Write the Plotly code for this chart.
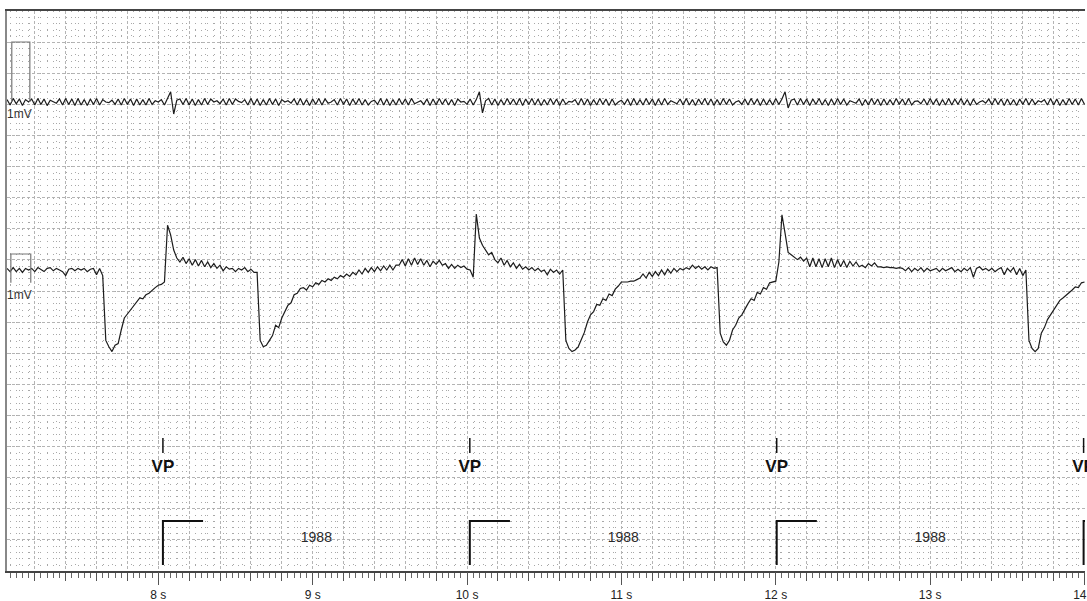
import numpy as np
import plotly.graph_objects as go

# ---------------- data ----------------
SAMPLE_T0 = 7.02          # s, first sample
SAMPLE_RATE = 50          # Hz
# Upper surface ECG lead (mV)
ecg_top_mv = [
    0.04,-0.05,0.06,-0.03,0.05,-0.06,0.04,0.0,0.05,-0.05,
    0.06,-0.04,0.05,-0.06,0.03,0.01,-0.02,0.05,-0.05,0.06,
    -0.04,0.05,-0.06,0.06,-0.05,0.04,-0.06,0.05,-0.04,0.06,
    -0.05,0.04,0.0,-0.01,0.03,-0.04,0.05,-0.05,0.06,-0.04,
    0.05,-0.06,0.05,-0.05,0.04,-0.05,0.06,-0.04,0.02,0.0,
    0.04,-0.05,0.05,0.17,-0.2,0.03,0.05,-0.04,0.06,-0.05,
    0.05,-0.06,0.04,-0.05,0.06,-0.04,0.05,0.0,0.02,-0.03,
    0.05,-0.05,0.06,-0.04,0.05,0.01,-0.01,0.04,-0.05,0.06,
    -0.05,0.05,-0.06,0.04,-0.05,0.06,-0.04,0.05,-0.06,0.04,
    0.0,0.02,-0.02,0.05,-0.05,0.06,-0.05,0.04,-0.06,0.05,
    -0.04,0.06,-0.05,0.05,-0.02,0.0,0.04,-0.05,0.06,-0.04,
    0.05,-0.06,0.05,-0.04,0.06,-0.05,0.04,-0.05,0.01,0.03,
    -0.04,0.06,-0.05,0.05,-0.06,0.04,-0.05,0.06,-0.04,0.05,
    -0.05,0.06,-0.03,0.0,0.02,-0.04,0.05,-0.06,0.05,-0.05,
    0.06,-0.04,0.05,-0.05,0.04,-0.06,0.05,0.0,0.01,-0.04,
    0.05,-0.05,0.04,0.17,-0.18,0.02,0.06,-0.05,0.05,-0.06,
    0.04,-0.05,0.06,-0.04,0.05,-0.05,0.06,-0.06,0.05,-0.04,
    0.06,-0.05,0.05,-0.06,0.04,-0.05,0.06,-0.04,0.05,-0.06,
    0.05,-0.04,0.01,0.0,0.04,-0.05,0.06,-0.05,0.05,-0.06,
    0.04,-0.05,0.06,-0.04,0.05,-0.06,0.05,-0.05,0.0,0.03,
    -0.04,0.05,-0.06,0.06,-0.05,0.04,-0.05,0.06,-0.04,0.05,
    -0.06,0.05,-0.05,0.06,-0.04,0.02,0.0,-0.03,0.05,-0.05,
    0.06,-0.05,0.04,-0.06,0.05,-0.04,0.06,-0.05,0.05,-0.06,
    0.04,-0.05,0.06,-0.04,0.05,-0.05,0.0,0.02,-0.04,0.05,
    -0.05,0.06,-0.04,0.05,-0.06,0.05,-0.05,0.04,-0.05,0.06,
    -0.04,0.05,0.17,-0.1,0.03,0.05,-0.05,0.06,-0.04,0.05,
    -0.06,0.05,-0.04,0.06,-0.05,0.04,-0.06,0.05,-0.05,0.06,
    -0.04,0.05,-0.05,0.02,0.0,-0.02,0.05,-0.06,0.04,-0.05,
    0.06,-0.04,0.05,-0.06,0.05,-0.05,0.04,-0.05,0.06,-0.04,
    0.05,-0.05,0.06,-0.05,0.01,0.02,-0.03,0.05,-0.05,0.06,
    -0.04,0.05,-0.06,0.04,-0.05,0.06,-0.05,0.05,-0.04,0.06,
    -0.05,0.04,-0.06,0.05,-0.04,0.0,0.02,-0.02,0.05,-0.05,
    0.06,-0.04,0.05,-0.06,0.05,-0.05,0.04,-0.06,0.05,-0.04,
    0.06,-0.05,0.05,-0.04,0.02,0.0,0.04,-0.05,0.06,-0.05,
    0.05,-0.06,0.04,-0.05,0.06,-0.04,0.05,-0.05,0.06,-0.04,
]
# Second lead (mV)
ecg_mid_mv = [
    0.1,-0.1,0.15,-0.1,0.1,-0.15,0.1,0.0,0.1,-0.1,
    0.15,0.0,-0.1,0.1,0.15,-0.05,0.1,0.0,-0.1,-0.35,
    0.05,0.1,-0.05,0.1,0.0,0.1,-0.1,0.05,0.1,-0.3,
    0.1,-0.35,-4.4,-4.8,-5.1,-4.7,-4.6,-3.75,-3.0,-2.75,
    -2.5,-2.25,-2.05,-1.75,-1.8,-1.55,-1.45,-1.25,-1.1,-0.95,
    -0.9,-0.75,2.8,2.2,1.25,0.75,0.5,0.8,0.4,0.7,
    0.3,0.65,0.25,0.6,0.2,0.5,0.15,0.4,0.1,0.3,
    -0.05,0.2,0.05,0.1,-0.1,0.1,0.0,0.15,-0.1,0.05,
    -0.15,-0.15,-4.4,-4.8,-4.7,-4.4,-4.1,-3.45,-3.6,-3.0,
    -2.6,-2.2,-2.05,-1.55,-1.45,-1.15,-1.1,-1.25,-0.95,-1.05,
    -0.8,-0.9,-0.65,-0.75,-0.55,-0.65,-0.45,-0.55,-0.35,-0.45,
    -0.25,-0.4,-0.15,-0.3,0.0,-0.25,0.1,-0.15,0.15,-0.1,
    0.2,-0.05,0.25,0.0,0.3,0.0,0.3,0.3,0.65,0.25,
    0.7,0.3,0.75,0.35,0.7,0.3,0.6,0.2,0.55,0.35,
    0.6,0.3,0.4,0.1,0.35,0.1,0.3,0.15,0.25,0.05,
    0.0,-0.45,3.5,2.0,1.55,1.25,0.95,1.1,0.65,0.45,
    0.75,0.3,0.6,0.2,0.45,0.1,0.35,0.05,0.2,0.0,
    0.15,-0.05,0.1,-0.1,0.0,-0.3,0.05,-0.15,0.0,-0.25,
    0.0,-4.4,-4.9,-5.1,-5.0,-4.8,-4.4,-3.9,-3.25,-2.8,
    -2.6,-2.15,-2.2,-1.8,-1.9,-1.5,-1.6,-1.2,-1.0,-0.75,
    -0.75,-0.75,-0.7,-0.7,-0.6,-0.5,-0.25,-0.5,-0.15,-0.4,
    -0.1,-0.35,0.0,-0.3,0.05,-0.2,0.1,-0.1,0.1,0.0,
    0.15,0.05,0.3,0.1,0.25,0.05,0.2,0.0,0.2,0.1,
    0.15,-3.95,-4.5,-4.7,-4.4,-3.75,-3.45,-3.0,-2.8,-2.4,
    -2.1,-1.8,-1.9,-1.4,-1.5,-1.1,-1.2,-0.8,-0.75,-0.7,
    0.5,3.45,2.3,1.1,0.95,0.8,0.65,0.8,0.55,0.75,
    0.2,0.75,0.2,0.7,0.15,0.7,0.2,0.75,0.15,0.65,
    0.2,0.6,0.15,0.55,0.25,0.5,0.2,0.3,0.15,0.4,
    0.25,0.45,0.2,0.2,0.15,0.2,0.15,0.15,0.1,0.15,
    0.1,-0.05,0.15,-0.1,0.1,-0.05,0.15,-0.1,0.1,-0.05,
    0.05,0.1,-0.1,0.1,-0.05,0.05,0.15,-0.1,0.05,-0.1,
    0.1,-0.05,0.15,-0.45,0.1,0.2,0.0,0.1,-0.05,0.1,
    -0.1,0.05,0.15,-0.3,0.1,-0.1,0.15,-0.3,0.1,-0.35,
    0.0,-4.4,-4.9,-5.1,-4.9,-3.95,-3.6,-3.1,-2.8,-2.5,
    -2.2,-1.9,-1.75,-1.6,-1.4,-1.25,-1.05,-1.1,-0.8,-0.75,
]
# 1 mV calibration pulses
cal_top_t = [7.051, 7.051, 7.168, 7.168]
cal_top_mv = [0.0, 1.0, 1.0, 0.0]
cal_mid_t = [7.045, 7.045, 7.174, 7.174]
cal_mid_mv = [-0.8, 1.0, 1.0, -0.8]
cal_label = "1mV"

# Ventricular pacing events
vp_times = [8.030, 10.018, 12.006, 13.994]
vp_label = "VP"
interval_labels = ["1988", "1988", "1988"]

tick_seconds = [8, 9, 10, 11, 12, 13, 14]
tick_labels = ["8 s", "9 s", "10 s", "11 s", "12 s", "13 s", "14 s"]

# ---------------- layout constants ----------------
W, H = 1087, 601
ML, MR, MT, MB = 7, 2, 11, 30
PLOT_H = H - MT - MB
X_RANGE = [7.02, 14.003]
N_DIV = 18                      # grid divisions vertically
FONT = "Liberation Sans"
TRACE_COL = "#1c1c1c"
MAJ_GRID = "#b4b4b4"
MIN_GRID = "#a8a8a8"

def px_to_u(py):               # page pixel -> grid unit
    return (H - MB - py) / PLOT_H * N_DIV

def chan_range(base_py, px_per_mv):
    hi = (base_py - MT) / px_per_mv
    return [hi - PLOT_H / px_per_mv, hi]

t = SAMPLE_T0 + np.arange(len(ecg_top_mv)) / SAMPLE_RATE

fig = go.Figure()

# channel traces
fig.add_trace(go.Scatter(x=t, y=ecg_top_mv, yaxis="y2", mode="lines",
                         line=dict(color=TRACE_COL, width=1.2), hoverinfo="skip"))
fig.add_trace(go.Scatter(x=t, y=ecg_mid_mv, yaxis="y3", mode="lines",
                         line=dict(color=TRACE_COL, width=1.2), hoverinfo="skip"))
fig.add_trace(go.Scatter(x=cal_top_t, y=cal_top_mv, yaxis="y2", mode="lines",
                         line=dict(color="#777777", width=1.2), hoverinfo="skip"))
fig.add_trace(go.Scatter(x=cal_mid_t, y=cal_mid_mv, yaxis="y3", mode="lines",
                         line=dict(color="#777777", width=1.2), hoverinfo="skip"))

# VP tick marks
VP_Y0, VP_Y1 = px_to_u(453), px_to_u(438)
vx, vy = [], []
for tv in vp_times:
    vx += [tv, tv, None]
    vy += [VP_Y0, VP_Y1, None]
fig.add_trace(go.Scatter(x=vx, y=vy, mode="lines", line=dict(color="#111", width=1.5),
                         hoverinfo="skip"))
fig.add_trace(go.Scatter(x=vp_times, y=[px_to_u(468)] * len(vp_times), mode="text",
                         text=[vp_label] * len(vp_times), cliponaxis=False,
                         textfont=dict(family=FONT, size=17, color="#111", weight="bold"),
                         hoverinfo="skip"))

# interval step markers
STEP_W = 0.26
S_Y0, S_Y1 = px_to_u(565), px_to_u(521)
sx, sy = [], []
for tv in vp_times:
    sx += [tv, tv, tv + STEP_W, None]
    sy += [S_Y0, S_Y1, S_Y1, None]
fig.add_trace(go.Scatter(x=sx, y=sy, mode="lines", line=dict(color="#111", width=2),
                         hoverinfo="skip"))
mids = [(a + b) / 2 for a, b in zip(vp_times[:-1], vp_times[1:])]
fig.add_trace(go.Scatter(x=mids, y=[px_to_u(538)] * len(mids), mode="text",
                         text=interval_labels,
                         textfont=dict(family=FONT, size=14, color="#2a2a2a"),
                         hoverinfo="skip"))

# calibration labels
fig.add_trace(go.Scatter(x=[X_RANGE[0], X_RANGE[0]], y=[px_to_u(115), px_to_u(296)],
                         mode="text", text=[cal_label, cal_label], textposition="middle right",
                         cliponaxis=False,
                         textfont=dict(family=FONT, size=12, color="#333"), hoverinfo="skip"))

# dummy trace so the labelled overlay axis renders
fig.add_trace(go.Scatter(x=[None], y=[None], xaxis="x2", hoverinfo="skip"))

fig.update_layout(
    width=W, height=H,
    margin=dict(l=ML, r=MR, t=MT, b=MB, autoexpand=False),
    paper_bgcolor="white", plot_bgcolor="white",
    showlegend=False, hovermode=False,
    xaxis=dict(range=X_RANGE, tickmode="linear", tick0=7.0, dtick=0.2,
               showgrid=True, gridcolor=MAJ_GRID, gridwidth=1, griddash="3px,2px",
               ticks="outside", ticklen=8, tickcolor="#555", tickwidth=1,
               showticklabels=False, zeroline=False,
               showline=True, linecolor="#444", linewidth=2, mirror=True,
               minor=dict(tick0=7.0, dtick=0.04, ticks="outside", ticklen=5,
                          tickcolor="#666", tickwidth=1, showgrid=True,
                          gridcolor=MIN_GRID, gridwidth=1, griddash="1px,5.22px")),
    xaxis2=dict(range=X_RANGE, overlaying="x", anchor="y", side="bottom",
                tickmode="array", tickvals=tick_seconds, ticktext=tick_labels,
                ticks="outside", ticklen=13, tickcolor="#555", tickwidth=1,
                ticklabeloverflow="allow",
                showgrid=False, showline=False, zeroline=False,
                tickfont=dict(family=FONT, size=12, color="#222")),
    yaxis=dict(range=[0, N_DIV], tickmode="linear", tick0=0, dtick=1,
               showgrid=True, gridcolor=MAJ_GRID, gridwidth=1, griddash="3px,2px",
               showticklabels=False, ticks="", zeroline=False,
               showline=True, linecolor="#888", linewidth=2,
               minor=dict(tick0=0, dtick=0.2, showgrid=True, gridcolor=MIN_GRID,
                          gridwidth=1, griddash="0px,3.09px,1px,5.18px")),
    yaxis2=dict(range=chan_range(102, 60), overlaying="y", visible=False),
    yaxis3=dict(range=chan_range(270, 16), overlaying="y", visible=False),
)

fig.write_html("out.html", config={"displayModeBar": False})
